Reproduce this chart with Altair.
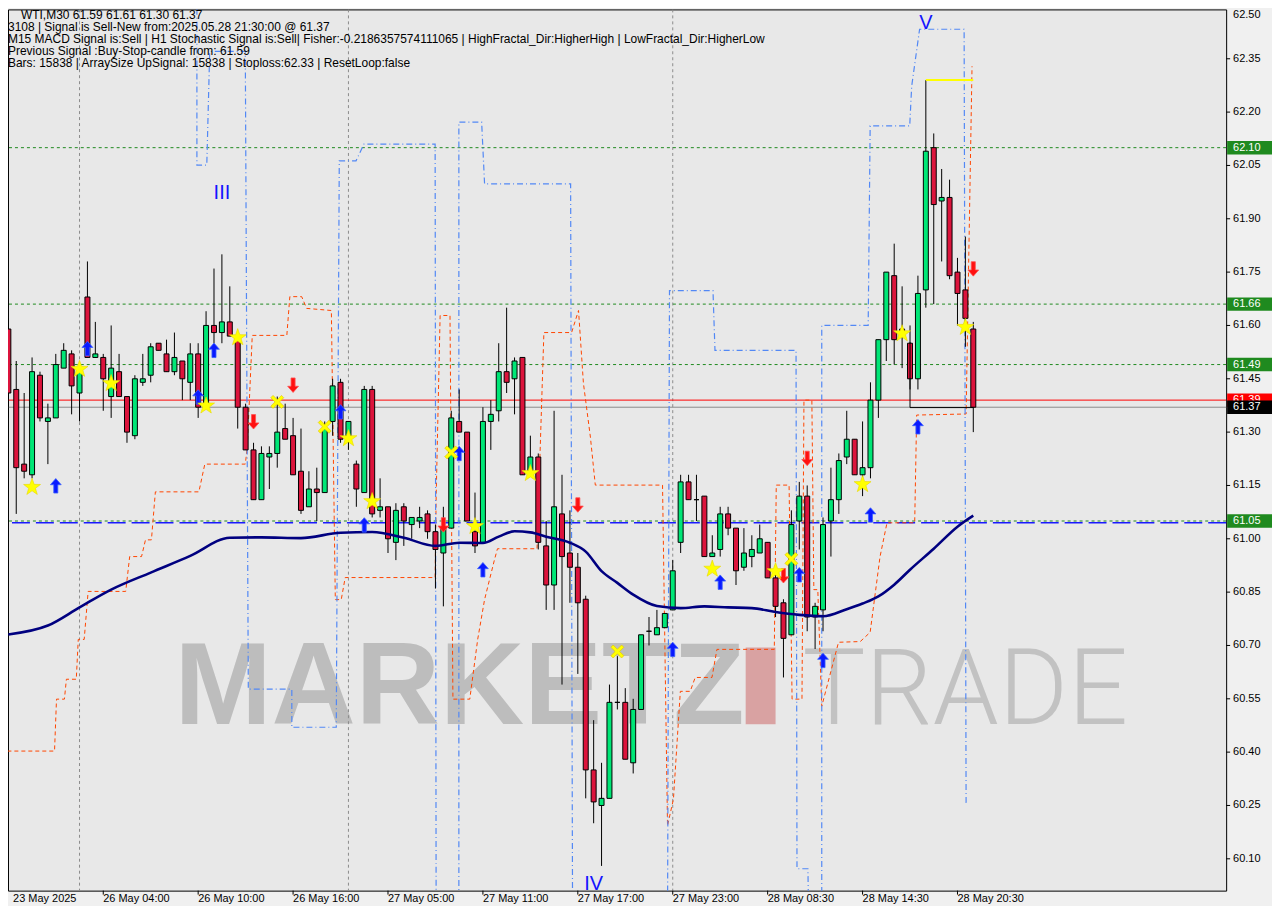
import altair as alt
import pandas as pd

# ---------------- data (WTI, M30) ----------------
opens = [61.59, 61.42, 61.21, 61.18, 61.46, 61.33, 61.34, 61.48, 61.52, 61.41,
         61.68, 61.51, 61.51, 61.40, 61.47, 61.40, 61.29, 61.44, 61.46, 61.55,
         61.52, 61.47, 61.50, 61.44, 61.52, 61.37, 61.60, 61.58, 61.61, 61.57,
         61.37, 61.25, 61.11, 61.23, 61.24, 61.31, 61.29, 61.19, 61.09, 61.14,
         61.13, 61.33, 61.44, 61.28, 61.21, 61.13, 61.42, 61.08, 61.09, 60.99,
         61.09, 61.04, 61.05, 61.07, 61.02, 60.96, 61.03, 61.33, 61.30, 61.02,
         60.99, 61.33, 61.36, 61.47, 61.45, 61.51, 61.19, 61.23, 60.98, 60.87,
         61.07, 60.96, 60.92, 60.83, 60.35, 60.25, 60.27, 60.54, 60.54, 60.37,
         60.52, 60.74, 60.73, 60.75, 60.80, 60.99, 61.16, 61.11, 61.12, 60.95,
         60.97, 61.07, 61.03, 60.92, 60.95, 60.96, 60.99, 60.89, 60.82, 60.73,
         61.05, 61.12, 60.78, 60.80, 61.05, 61.11, 61.23, 61.28, 61.18, 61.20,
         61.39, 61.56, 61.74, 61.59, 61.55, 61.45, 61.70, 62.10, 61.95, 61.96,
         61.75, 61.70, 61.59]
highs = [61.62, 61.50, 61.41, 61.51, 61.47, 61.38, 61.52, 61.55, 61.53, 61.49,
         61.78, 61.61, 61.52, 61.60, 61.52, 61.40, 61.46, 61.52, 61.55, 61.55,
         61.56, 61.58, 61.50, 61.55, 61.55, 61.64, 61.76, 61.80, 61.71, 61.57,
         61.38, 61.27, 61.26, 61.26, 61.40, 61.38, 61.34, 61.31, 61.19, 61.20,
         61.33, 61.45, 61.45, 61.33, 61.22, 61.43, 61.43, 61.17, 61.09, 61.10,
         61.10, 61.06, 61.09, 61.08, 61.04, 61.09, 61.36, 61.42, 61.30, 61.13,
         61.37, 61.39, 61.55, 61.65, 61.51, 61.51, 61.29, 61.24, 61.05, 61.36,
         61.18, 61.08, 60.96, 60.84, 60.49, 60.37, 60.59, 60.67, 60.58, 60.55,
         60.73, 60.78, 60.80, 60.79, 60.94, 61.18, 61.18, 61.18, 61.12, 61.01,
         61.09, 61.09, 61.03, 61.03, 61.01, 61.04, 60.99, 60.92, 60.83, 61.08,
         61.16, 61.15, 60.82, 61.06, 61.20, 61.24, 61.36, 61.28, 61.33, 61.44,
         61.56, 61.75, 61.83, 61.71, 61.60, 61.74, 62.29, 62.14, 62.04, 62.01,
         61.79, 61.85, 61.61]
lows = [61.34, 61.07, 61.17, 61.17, 61.33, 61.21, 61.34, 61.48, 61.35, 61.33,
        61.51, 61.51, 61.36, 61.34, 61.40, 61.27, 61.28, 61.43, 61.44, 61.53,
        61.47, 61.46, 61.39, 61.39, 61.34, 61.37, 61.55, 61.55, 61.57, 61.31,
        61.25, 61.11, 61.11, 61.14, 61.20, 61.28, 61.18, 61.07, 61.09, 61.05,
        61.13, 61.29, 61.27, 61.25, 61.09, 61.13, 61.06, 61.06, 60.96, 60.94,
        60.98, 61.00, 61.03, 61.00, 60.86, 60.81, 61.03, 61.30, 61.05, 60.96,
        60.99, 61.25, 61.33, 61.41, 61.35, 61.18, 61.19, 60.97, 60.80, 60.80,
        60.59, 60.82, 60.62, 60.27, 60.20, 60.08, 60.27, 60.52, 60.38, 60.34,
        60.52, 60.70, 60.73, 60.75, 60.80, 60.96, 61.11, 61.05, 60.95, 60.95,
        60.95, 61.01, 60.87, 60.91, 60.92, 60.96, 60.89, 60.78, 60.61, 60.73,
        60.97, 60.74, 60.69, 60.74, 60.95, 61.07, 61.21, 61.18, 61.12, 61.17,
        61.34, 61.50, 61.49, 61.48, 61.42, 61.42, 61.65, 61.66, 61.78, 61.73,
        61.60, 61.54, 61.30]
closes = [61.41, 61.20, 61.19, 61.47, 61.34, 61.34, 61.49, 61.53, 61.43, 61.47,
          61.51, 61.52, 61.45, 61.48, 61.40, 61.30, 61.45, 61.45, 61.54, 61.53,
          61.47, 61.51, 61.45, 61.52, 61.37, 61.60, 61.58, 61.61, 61.57, 61.37,
          61.25, 61.11, 61.24, 61.24, 61.30, 61.28, 61.18, 61.08, 61.14, 61.13,
          61.31, 61.43, 61.28, 61.33, 61.14, 61.42, 61.07, 61.09, 61.00, 61.08,
          61.05, 61.06, 61.06, 61.02, 60.97, 61.03, 61.34, 61.30, 61.05, 60.98,
          61.33, 61.35, 61.47, 61.44, 61.50, 61.18, 61.23, 60.99, 60.87, 61.09,
          60.95, 60.92, 60.82, 60.35, 60.26, 60.27, 60.54, 60.54, 60.38, 60.52,
          60.73, 60.74, 60.75, 60.79, 60.91, 61.16, 61.11, 61.11, 60.95, 60.96,
          61.07, 61.03, 60.91, 60.96, 60.97, 61.00, 60.89, 60.81, 60.72, 61.04,
          61.12, 60.78, 60.81, 61.04, 61.11, 61.22, 61.28, 61.18, 61.20, 61.39,
          61.56, 61.75, 61.56, 61.57, 61.45, 61.69, 62.09, 61.94, 61.96, 61.74,
          61.69, 61.62, 61.37]

# moving average (navy)
ma_bars = [0, 5, 9, 13, 18, 23, 28, 32, 37, 42, 46, 50, 54, 57, 60, 62, 64, 66, 68, 71,
           73, 75, 77, 79, 82, 85, 88, 91, 94, 97, 100, 103, 106, 108, 110, 112, 114, 117, 120, 122]
ma_prices = [60.731, 60.756, 60.807, 60.857, 60.905, 60.952, 61.003, 61.004, 61.002, 61.017,
             61.019, 61.003, 60.980, 60.989, 60.988, 61.006, 61.021, 61.018, 61.006, 60.989,
             60.964, 60.909, 60.876, 60.843, 60.811, 60.805, 60.810, 60.807, 60.805, 60.794,
             60.786, 60.782, 60.802, 60.818, 60.838, 60.871, 60.913, 60.972, 61.034, 61.065]

# orange dashed step band
orange_bars = [-1, 5.84, 6.09, 7.09, 7.34, 8.59, 8.84, 9.59, 10.09, 14.84, 15.34, 16.84, 17.34, 18.09,
               18.59, 24.09, 24.84, 29.96, 30.21, 30.84, 35.21, 35.59, 37.09, 37.71, 40.84, 41.34,
               42.09, 42.59, 53.96, 54.09, 54.59, 55.84, 56.21, 58.34, 59.34, 60.21, 61.46, 61.84,
               66.84, 67.71, 71.21, 72.09, 72.71, 73.59, 74.21, 82.71, 83.34, 84.09, 84.96, 86.21,
               86.84, 88.96, 89.59, 96.84, 97.09, 98.71, 99.09, 100.34, 100.59, 101.59, 101.84,
               102.34, 102.84, 104.96, 107.71, 108.96, 110.21, 111.09, 114.59, 114.84, 121.09, 121.84]
orange_prices = [60.403, 60.403, 60.549, 60.549, 60.605, 60.605, 60.717, 60.717, 60.852, 60.852,
                 60.950, 60.950, 60.997, 60.997, 61.132, 61.132, 61.210, 61.210, 61.258, 61.572,
                 61.572, 61.681, 61.681, 61.648, 61.642, 60.829, 60.829, 60.891, 60.891, 61.118,
                 61.628, 61.628, 60.549, 60.549, 60.717, 60.829, 60.941, 60.972, 60.972, 61.580,
                 61.580, 61.642, 61.437, 61.286, 61.151, 61.151, 60.193, 60.268, 60.571, 60.571,
                 60.610, 60.610, 60.689, 60.689, 61.151, 61.151, 60.549, 60.549, 61.390, 61.390,
                 60.857, 60.857, 60.529, 60.709, 60.711, 60.737, 60.950, 61.045, 61.045, 61.348,
                 61.351, 62.329]

# blue dash-dot step band
blue_bars = [23.84, 23.84, 25.09, 25.46, 29.96, 30.34, 35.84, 35.84, 41.46, 41.84, 43.96, 44.96,
             53.96, 54.09, 56.96, 56.96, 59.84, 60.21, 71.09, 71.34, 83.34, 83.59, 89.09, 89.34,
             99.59, 99.71, 101.09, 101.21, 102.84, 102.84, 108.71, 108.96, 113.96, 114.21, 115.21,
             120.84, 121.09]
blue_prices = [62.60, 62.051, 62.051, 62.371, 62.371, 60.577, 60.577, 60.470, 60.470, 62.063,
               62.063, 62.110, 62.110, 59.90, 59.90, 62.172, 62.172, 61.998, 61.998, 59.90, 59.90,
               61.698, 61.698, 61.530, 61.530, 60.072, 60.072, 59.90, 59.90, 61.600, 61.600,
               62.161, 62.161, 62.273, 62.433, 62.433, 60.254]

# signal markers
star_bars = [3, 9, 13, 25, 29, 43, 46, 59, 66, 89, 97, 108, 113, 121]
star_prices = [61.145, 61.477, 61.437, 61.374, 61.566, 61.282, 61.105, 61.035, 61.184, 60.915,
               60.908, 61.153, 61.577, 61.595]
cross_bars = [34, 40, 56, 77, 99]
cross_prices = [61.385, 61.315, 61.243, 60.683, 60.943]
up_bars = [6, 10, 24, 26, 42, 45, 57, 60, 84, 90, 100, 103, 109, 115]
up_prices = [61.149, 61.535, 61.399, 61.530, 61.357, 61.039, 61.240, 60.913, 60.689, 60.878,
             60.899, 60.658, 61.067, 61.315]
down_bars = [31, 36, 55, 72, 98, 101, 122]
down_prices = [61.329, 61.432, 61.039, 61.095, 60.896, 61.226, 61.759]

roman_labels = ["III", "IV", "V"]
roman_bars = [27, 74, 116]
roman_prices = [61.973, 60.030, 62.450]

green_levels = [62.10, 61.66, 61.49, 61.05]
red_level = 61.39
price_level = 61.37
blue_level = 61.045
stop_bars = [116, 122]
stop_prices = [62.29, 62.29]
bracket_bars = [114, 114, 122]
bracket_prices = [61.553, 61.369, 61.369]
separator_bars = [9, 43, 84]

ytick_values = [62.50, 62.35, 62.20, 62.05, 61.90, 61.75, 61.60, 61.45, 61.30, 61.15,
                61.00, 60.85, 60.70, 60.55, 60.40, 60.25, 60.10]
xtick_bars = [12, 24, 36, 48, 60, 72, 84, 96, 108, 120]
xlabel_bars = [0.6, 12, 24, 36, 48, 60, 72, 84, 96, 108, 120]
xlabel_texts = ["23 May 2025", "26 May 04:00", "26 May 10:00", "26 May 16:00", "27 May 05:00",
                "27 May 11:00", "27 May 17:00", "27 May 23:00", "28 May 08:30", "28 May 14:30",
                "28 May 20:30"]

header_lines = [
    "WTI,M30  61.59 61.61 61.30 61.37",
    "3108 | Signal is Sell-New from:2025.05.28 21:30:00 @ 61.37",
    "M15 MACD Signal is:Sell | H1 Stochastic Signal is:Sell| Fisher:-0.2186357574111065 | HighFractal_Dir:HigherHigh | LowFractal_Dir:HigherLow",
    "Previous Signal :Buy-Stop-candle from: 61.59",
    "Bars: 15838 | ArraySize UpSignal: 15838 | Stoploss:62.33 | ResetLoop:false",
]

# ---------------- chart ----------------
W, H = 1222, 884
FONT = "Liberation Sans"
GREEN, RED = "#00e676", "#dc143c"
YTOP, YBOT = 62.4888, 60.0105

XS = alt.Scale(domain=[0.5875, 153.3375], nice=False, zero=False)
YS = alt.Scale(domain=[YBOT, YTOP], nice=False, zero=False)


def X(f):
    return alt.X(f"{f}:Q", scale=XS, axis=None)


def Y(f):
    return alt.Y(f"{f}:Q", scale=YS, axis=None)


def txt(s, x, y, **kw):
    return alt.Chart(pd.DataFrame({"t": [s]})).mark_text(**kw).encode(
        x=alt.value(x), y=alt.value(y), text="t:N")


cdf = pd.DataFrame({"bar": list(range(len(opens))), "open": opens, "high": highs,
                    "low": lows, "close": closes})
cdf["dir"] = ["up" if c >= o else "down" for o, c in zip(opens, closes)]

STAR = ("M0,-1L0.235,-0.324L0.951,-0.309L0.38,0.124L0.588,0.809L0,0.4L-0.588,0.809"
        "L-0.38,0.124L-0.951,-0.309L-0.235,-0.324Z")
UP = "M0,-1L0.75,-0.15L0.28,-0.15L0.28,1L-0.28,1L-0.28,-0.15L-0.75,-0.15Z"
DOWN = "M0,1L0.75,0.15L0.28,0.15L0.28,-1L-0.28,-1L-0.28,0.15L-0.75,0.15Z"
CROSS = ("M-1,-0.65L-0.65,-1L0,-0.35L0.65,-1L1,-0.65L0.35,0L1,0.65L0.65,1L0,0.35"
         "L-0.65,1L-1,0.65L-0.35,0Z")

layers = []

# watermark
layers.append(txt("MARKETZ", 167, 717, align="left", baseline="alphabetic", font=FONT,
                  fontWeight="bold", fontSize=117, color="#bdbdbd"))
layers.append(alt.Chart(pd.DataFrame({"a": [0]})).mark_rect(color="#d9a2a2").encode(
    x=alt.value(740), x2=alt.value(770), y=alt.value(640), y2=alt.value(717)))
layers.append(txt("TRADE", 797, 717, align="left", baseline="alphabetic", font="Roboto",
                  fontWeight=300, fontSize=106, color="#c2c2c2"))

# day separators
layers.append(alt.Chart(pd.DataFrame({"bar": separator_bars})).mark_rule(
    color="#8c8c8c", strokeDash=[3, 3], strokeWidth=1, clip=True).encode(
    x=X("bar"), y=alt.value(0), y2=alt.value(H)))

# horizontal levels
layers.append(alt.Chart(pd.DataFrame({"p": green_levels})).mark_rule(
    color="#1f8a1f", strokeDash=[3, 3], strokeWidth=1).encode(y=Y("p")))
layers.append(alt.Chart(pd.DataFrame({"p": [blue_level]})).mark_rule(
    color="#1a1aff", strokeDash=[18, 6], strokeWidth=1.5).encode(y=Y("p")))
layers.append(alt.Chart(pd.DataFrame({"p": [price_level]})).mark_rule(
    color="#8a8a8a", strokeWidth=1).encode(y=Y("p")))
layers.append(alt.Chart(pd.DataFrame({"p": [red_level]})).mark_rule(
    color="#ff0000", strokeWidth=1).encode(y=Y("p")))

# step bands
layers.append(alt.Chart(pd.DataFrame({"b": orange_bars, "p": orange_prices,
                                      "i": list(range(len(orange_bars)))})).mark_line(
    color="#ff4500", strokeDash=[4, 3], strokeWidth=1, clip=True).encode(
    x=X("b"), y=Y("p"), order="i:Q"))
layers.append(alt.Chart(pd.DataFrame({"b": blue_bars, "p": blue_prices,
                                      "i": list(range(len(blue_bars)))})).mark_line(
    color="#5288f5", strokeDash=[6, 3, 1, 3], strokeWidth=1.2, clip=True).encode(
    x=X("b"), y=Y("p"), order="i:Q"))

# candles
layers.append(alt.Chart(cdf).mark_rule(color="black", strokeWidth=1, clip=True).encode(
    x=X("bar"), y=Y("low"), y2="high"))
layers.append(alt.Chart(cdf).mark_bar(size=5, stroke="black", strokeWidth=1, clip=True).encode(
    x=X("bar"), y=Y("open"), y2="close",
    fill=alt.Fill("dir:N", scale=alt.Scale(domain=["up", "down"], range=[GREEN, RED]),
                  legend=None)))

# moving average
layers.append(alt.Chart(pd.DataFrame({"b": ma_bars, "p": ma_prices})).mark_line(
    color="#000080", strokeWidth=2.6, clip=True, interpolate="monotone").encode(
    x=X("b"), y=Y("p")))

# stop line and bracket
layers.append(alt.Chart(pd.DataFrame({"b": stop_bars, "p": stop_prices})).mark_line(
    color="#ffff00", strokeWidth=2, clip=True).encode(x=X("b"), y=Y("p")))
layers.append(alt.Chart(pd.DataFrame({"b": bracket_bars, "p": bracket_prices,
                                      "i": [0, 1, 2]})).mark_line(
    color="black", strokeWidth=1, clip=True).encode(x=X("b"), y=Y("p"), order="i:Q"))

# markers
layers.append(alt.Chart(pd.DataFrame({"b": up_bars, "p": up_prices})).mark_point(
    shape=UP, filled=True, size=210, fill="#0a1aff", stroke="#3a60ff", strokeWidth=0.8,
    opacity=1, clip=True).encode(x=X("b"), y=Y("p")))
layers.append(alt.Chart(pd.DataFrame({"b": down_bars, "p": down_prices})).mark_point(
    shape=DOWN, filled=True, size=210, fill="#ff1010", stroke="#ff5050", strokeWidth=0.8,
    opacity=1, clip=True).encode(x=X("b"), y=Y("p")))
layers.append(alt.Chart(pd.DataFrame({"b": star_bars, "p": star_prices})).mark_point(
    shape=STAR, filled=True, size=320, fill="#ffff00", stroke="#e8d800", strokeWidth=0.6,
    opacity=1, clip=True).encode(x=X("b"), y=Y("p")))
layers.append(alt.Chart(pd.DataFrame({"b": cross_bars, "p": cross_prices})).mark_point(
    shape=CROSS, filled=True, size=170, fill="#ffff00", stroke="#e0c000", strokeWidth=0.6,
    opacity=1, clip=True).encode(x=X("b"), y=Y("p")))

# roman wave labels
layers.append(alt.Chart(pd.DataFrame({"b": roman_bars, "p": roman_prices, "t": roman_labels})
                        ).mark_text(font=FONT, fontSize=20, color="#1414ff", baseline="middle",
                                    align="center").encode(x=X("b"), y=Y("p"), text="t:N"))

# header text
layers.append(txt(header_lines[0], 13, 6, align="left", baseline="middle", font=FONT,
                  fontSize=12, color="black"))
for k, line in enumerate(header_lines[1:]):
    layers.append(txt(line, 0, 18 + 12 * k, align="left", baseline="middle", font=FONT,
                      fontSize=12, color="black"))

# right price axis (ticks + labels)
ydf = pd.DataFrame({"p": ytick_values, "t": [f"{v:.2f}" for v in ytick_values]})
inside = ydf[ydf["p"] <= YTOP]
above = ydf[ydf["p"] > YTOP]
layers.append(alt.Chart(inside).mark_rule(color="black").encode(
    y=Y("p"), x=alt.value(W), x2=alt.value(W + 4)))
layers.append(alt.Chart(inside).mark_text(align="left", baseline="middle", font=FONT,
                                          fontSize=11, color="black").encode(
    y=Y("p"), x=alt.value(W + 7), text="t:N"))
layers.append(alt.Chart(above).mark_text(align="left", baseline="top", font=FONT,
                                         fontSize=11, color="black").encode(
    y=alt.value(0), x=alt.value(W + 7), text="t:N"))

# bottom time axis
layers.append(alt.Chart(pd.DataFrame({"b": xtick_bars})).mark_rule(color="black").encode(
    x=X("b"), y=alt.value(H), y2=alt.value(H + 4)))
layers.append(alt.Chart(pd.DataFrame({"b": xlabel_bars, "t": xlabel_texts})).mark_text(
    align="left", baseline="middle", font=FONT, fontSize=11, color="black").encode(
    x=X("b"), y=alt.value(H + 8), text="t:N"))

# coloured price boxes on the axis
BOX = "M-1,-0.3L1,-0.3L1,0.3L-1,0.3Z"
box_prices = green_levels + [red_level, price_level]
box_colors = ["#1f8a1f"] * 4 + ["#ff0000", "#000000"]
for p, c in zip(box_prices, box_colors):
    d = pd.DataFrame({"p": [p], "t": [f"{p:.2f}"]})
    layers.append(alt.Chart(d).mark_point(shape=BOX, filled=True, size=45 * 45, fill=c,
                                          opacity=1, strokeWidth=0).encode(
        y=Y("p"), x=alt.value(W + 23.5)))
    layers.append(alt.Chart(d).mark_text(align="left", baseline="middle", font=FONT,
                                         fontSize=11, color="white").encode(
        y=Y("p"), x=alt.value(W + 7), text="t:N"))

chart = alt.layer(*layers).properties(
    width=W, height=H,
    autosize=alt.AutoSizeParams(type="none"),
    padding={"left": 0, "top": 0, "right": 46, "bottom": 14},
    background="#f0f0f0",
).configure_view(fill="#e8e8e8", stroke="#000000", strokeWidth=1)

chart.save("out.html", embed_options={"renderer": "svg", "actions": False})
